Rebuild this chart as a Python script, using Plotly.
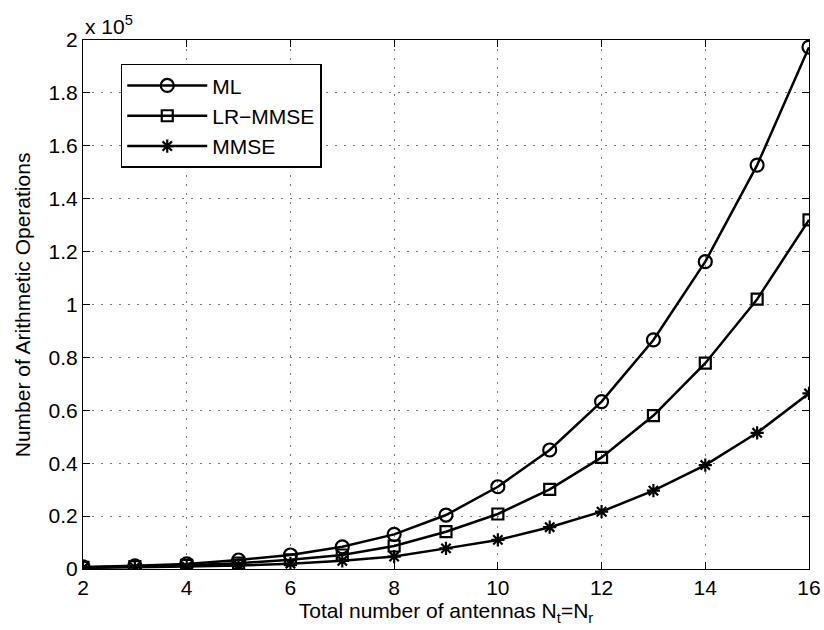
import plotly.graph_objects as go

antennas = [2, 3, 4, 5, 6, 7, 8, 9, 10, 11, 12, 13, 14, 15, 16]
ml_ops = [800, 1200, 1900, 3400, 5300, 8400, 13100, 20400, 31100, 45000, 63300, 86600, 116200, 152700, 197300]
lr_mmse_ops = [600, 900, 1400, 2200, 3500, 5300, 8700, 14100, 20800, 30100, 42200, 58000, 77800, 102000, 132000]
mmse_ops = [400, 600, 900, 1300, 2000, 3100, 4700, 7800, 11000, 15800, 21700, 29600, 39300, 51500, 66400]

x_ticks = [2, 4, 6, 8, 10, 12, 14, 16]
y_tick_vals = [0, 20000, 40000, 60000, 80000, 100000, 120000, 140000, 160000, 180000, 200000]
y_tick_text = ["0", "0.2", "0.4", "0.6", "0.8", "1", "1.2", "1.4", "1.6", "1.8", "2"]

FONT = "Liberation Sans, Arial, Helvetica, sans-serif"
FS = 21

fig = go.Figure()
series = [
    ("ML", ml_ops, "circle-open", 13),
    ("LR\u2212MMSE", lr_mmse_ops, "square-open", 11),
    ("MMSE", mmse_ops, "asterisk-open", 11),
]
for name, vals, sym, sz in series:
    fig.add_trace(go.Scatter(
        x=antennas, y=vals, name=name, mode="lines+markers",
        line=dict(color="black", width=2.5),
        marker=dict(symbol=sym, size=sz, color="black", line=dict(color="black", width=2.2)),
    ))

axis_common = dict(
    showline=True, linecolor="black", linewidth=1.2, mirror="ticks",
    ticks="inside", ticklen=7, tickcolor="black", tickwidth=1,
    showgrid=True, gridcolor="#7a7a7a", griddash="1.5px,7.5px", gridwidth=1,
    zeroline=False, automargin=False,
    tickfont=dict(family=FONT, size=FS, color="black"),
)

fig.update_xaxes(range=[2, 16], tickvals=x_ticks,
                 title=dict(text="Total number of antennas N<sub>t</sub>=N<sub>r</sub>",
                            font=dict(family=FONT, size=FS, color="black"), standoff=0),
                 **axis_common)
fig.update_yaxes(range=[0, 200000], tickvals=y_tick_vals, ticktext=y_tick_text,
                 **axis_common)

fig.add_annotation(xref="paper", yref="paper", x=-0.083, y=0.5, xanchor="center", yanchor="middle",
                   text="Number of Arithmetic Operations", textangle=-90, showarrow=False,
                   font=dict(family=FONT, size=FS, color="black"))

fig.add_annotation(xref="paper", yref="paper", x=0, y=1, xanchor="left", yanchor="bottom",
                   text="x 10<sup>5</sup>", showarrow=False, yshift=0,
                   font=dict(family=FONT, size=FS, color="black"))

fig.update_layout(
    width=824, height=630,
    margin=dict(l=83, r=15, t=40, b=61),
    plot_bgcolor="white", paper_bgcolor="white",
    font=dict(family=FONT, size=FS, color="black"),
    legend=dict(x=0.052, y=0.955, xanchor="left", yanchor="top",
                bordercolor="black", borderwidth=1.5, bgcolor="white",
                font=dict(family=FONT, size=21, color="black"),
                itemwidth=80),
    showlegend=True,
)

fig.write_html("out.html")
